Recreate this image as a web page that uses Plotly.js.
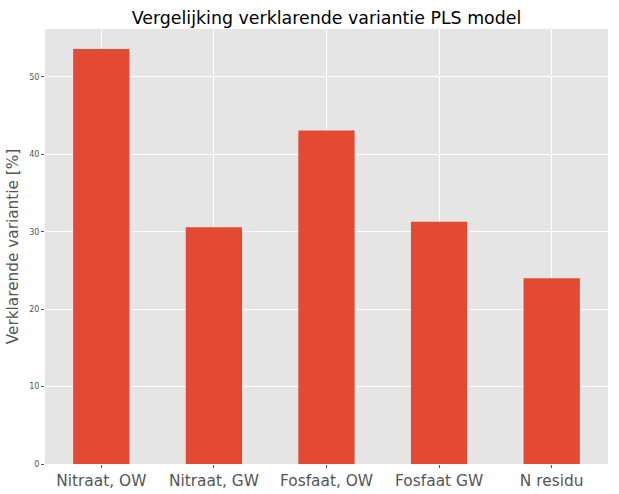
<!DOCTYPE html>
<html>
<head>
<meta charset="utf-8">
<script src="https://cdn.plot.ly/plotly-3.0.1.min.js"></script>
<style>html,body{margin:0;padding:0;background:#fff;}#chart{width:619px;height:494px;}</style>
</head>
<body>
<div id="chart"></div>
<script>
const categories = ["Nitraat, OW", "Nitraat, GW", "Fosfaat, OW", "Fosfaat GW", "N residu"];
const values = [53.6, 30.6, 43.1, 31.3, 24.0];
const yTicks = [0, 10, 20, 30, 40, 50];

const trace = {
  type: "bar",
  x: [0, 1, 2, 3, 4],
  y: values,
  width: 0.5,
  marker: {color: "#E24A33", line: {width: 0}},
  hoverinfo: "none"
};

const layout = {
  width: 619, height: 494,
  margin: {l: 45, r: 11, t: 29, b: 30},
  paper_bgcolor: "#ffffff",
  plot_bgcolor: "#E5E5E5",
  showlegend: false,
  title: {text: "Vergelijking verklarende variantie PLS model", font: {family: "DejaVu Sans", size: 17.4, color: "#000"}, xref: "paper", x: 0.5, xanchor: "center", y: 0.963, yanchor: "middle"},
  xaxis: {
    range: [-0.5, 4.5],
    tickmode: "array", tickvals: [0, 1, 2, 3, 4], ticktext: categories,
    tickfont: {family: "DejaVu Sans", size: 15.4, color: "#555"},
    showgrid: true, gridcolor: "#ffffff", gridwidth: 1,
    zeroline: false, showline: false,
    ticks: "outside", ticklen: 3, tickcolor: "#555", tickwidth: 1
  },
  yaxis: {
    range: [0, 56.2],
    tickmode: "array", tickvals: yTicks, ticktext: yTicks.map(String),
    tickfont: {family: "DejaVu Sans", size: 8, color: "#555"},
    showgrid: true, gridcolor: "#ffffff", gridwidth: 1,
    zeroline: false, showline: false,
    ticks: "outside", ticklen: 3, tickcolor: "#555", tickwidth: 1,
    title: {text: "Verklarende variantie [%]", font: {family: "DejaVu Sans", size: 15.3, color: "#555"}, standoff: 6}
  }
};

Plotly.newPlot("chart", [trace], layout, {staticPlot: true, displayModeBar: false});
</script>
</body>
</html>
